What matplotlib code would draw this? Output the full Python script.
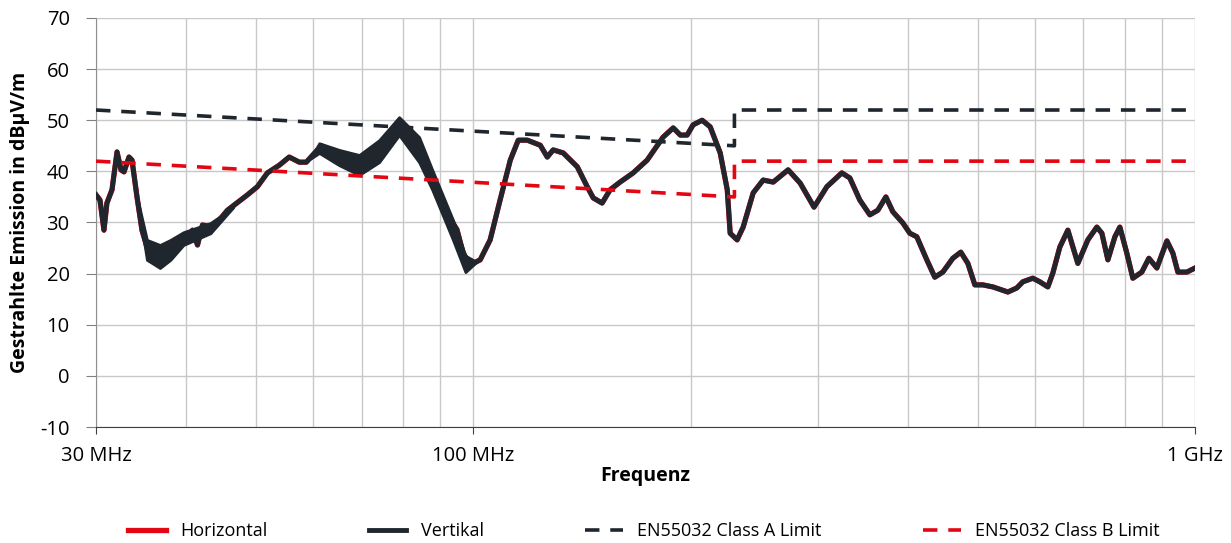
import matplotlib.pyplot as plt
from matplotlib.ticker import FixedLocator, NullFormatter

plt.rcParams['font.family'] = ['Open Sans', 'DejaVu Sans']
plt.rcParams['axes.unicode_minus'] = False

# Data (frequency in MHz, level in dBuV/m)
freq = [30, 30.38, 30.77, 31.06, 31.57, 32.08, 32.49, 32.80, 33.33, 33.65,
        34.19, 34.74, 35.41, 36.56, 38.04, 40.17, 40.81, 41.47, 42.13, 43.64,
        45.63, 48.63, 50.20, 51.83, 53.83, 55.57, 57.38, 58.68, 61.54, 63.74,
        65.80, 67.94, 69.47, 71.70, 74.74, 77.16, 79.15, 81.0, 84.1, 87.7,
        91.7, 94.9, 96.8, 99.0, 102.2, 105.5, 108.9, 112.5, 115.4, 118.8,
        123.8, 126.6, 129.0, 133.2, 139.3, 143.8, 146.6, 150.8, 154.7, 159.7,
        166.5, 174.1, 183.2, 189.2, 193.5, 197.8, 201.6, 207.5, 212.9, 219.8,
        224.8, 226.9, 232.0, 236.5, 244.2, 252.1, 260.3, 273.0, 283.7, 296.5,
        308.9, 324.0, 332.4, 343.1, 354.3, 363.5, 372.9, 381.3, 393.7, 402.5,
        411.6, 424.9, 435.9, 447.2, 461.7, 473.6, 484.4, 495.3, 508.1, 524.6,
        550.3, 566.3, 577.2, 595.9, 609.4, 625.2, 635.2, 649.6, 666.4, 688.0,
        710.3, 731.0, 742.8, 757.2, 774.3, 786.7, 804.4, 820.0, 843.8, 863.0,
        885.3, 914.1, 931.7, 946.7, 974.3, 1000]
vertikal = [35.4, 34.4, 28.5, 33.8, 36.4, 43.8, 40.3, 39.9, 42.8, 42.2,
            35.0, 28.5, 24.5, 23.3, 24.6, 27.0, 28.5, 25.6, 29.5, 29.1,
            32.4, 35.4, 37.0, 39.7, 41.2, 42.8, 41.8, 41.8, 45.0, 44.0,
            42.6, 42.8, 41.3, 42.0, 44.0, 47.0, 49.3, 47.0, 44.2, 38.4,
            32.0, 28.6, 24.0, 21.7, 22.7, 26.6, 34.4, 42.2, 46.1, 46.1,
            45.1, 42.8, 44.2, 43.6, 40.9, 37.0, 34.8, 33.8, 36.4, 37.9,
            39.7, 42.2, 46.7, 48.5, 47.1, 47.1, 49.1, 50.0, 48.7, 43.6,
            36.4, 27.9, 26.6, 29.1, 35.8, 38.3, 37.9, 40.3, 37.7, 33.0,
            37.0, 39.7, 38.7, 34.4, 31.5, 32.4, 35.0, 32.1, 29.9, 27.9,
            27.2, 22.7, 19.3, 20.3, 23.0, 24.2, 22.0, 17.8, 17.8, 17.4,
            16.4, 17.2, 18.4, 19.1, 18.4, 17.4, 20.1, 25.2, 28.5, 22.0,
            26.6, 29.1, 27.9, 22.7, 27.2, 29.1, 24.0, 19.1, 20.3, 23.0,
            21.1, 26.4, 24.0, 20.3, 20.3, 21.1]
horizontal = list(vertikal)

# spread of the noisy vertical trace (min / max envelope)
spread1_freq = [34.19, 35.29, 36.79, 38.04, 39.65, 43.22, 46.5]
spread1_lo = [35.0, 22.7, 21.1, 22.7, 25.6, 27.9, 33.0]
spread1_hi = [35.0, 26.6, 25.6, 26.6, 28.1, 29.9, 33.0]
spread2_freq = [59.5, 61.15, 65.17, 69.47, 74.03, 78.90, 84.10, 87.7, 93.69,
                97.5, 101.0]
spread2_lo = [42.5, 43.6, 41.2, 39.3, 41.8, 47.1, 41.8, 36.4, 26.6, 20.3, 22.3]
spread2_hi = [42.5, 45.5, 44.2, 43.2, 46.1, 50.6, 46.7, 40.3, 30.5, 23.5, 22.3]

limit_freq = [30, 230, 230, 1000]
class_a = [52, 45, 52, 52]
class_b = [42, 35, 42, 42]

dark = '#1f262d'
red = '#e30613'

fig = plt.figure(figsize=(12.31, 5.43), dpi=100)
ax = fig.add_axes([0.078, 0.2136, 0.8928, 0.7533])

ax.plot(freq, horizontal, color=red, linewidth=3.8, label='Horizontal',
        solid_joinstyle='round', zorder=3)
ax.plot(freq, vertikal, color=dark, linewidth=3.5, label='Vertikal',
        solid_joinstyle='round', zorder=4)
ax.fill_between(spread1_freq, spread1_lo, spread1_hi, color=dark, linewidth=2,
                edgecolor=dark, zorder=4)
ax.fill_between(spread2_freq, spread2_lo, spread2_hi, color=dark, linewidth=2,
                edgecolor=dark, zorder=4)
ax.plot(limit_freq, class_a, color=dark, linewidth=2.6, dashes=(4, 3),
        label='EN55032 Class A Limit', zorder=5)
ax.plot(limit_freq, class_b, color=red, linewidth=2.6, dashes=(4, 3),
        label='EN55032 Class B Limit', zorder=5)

ax.set_xscale('log')
ax.set_xlim(30, 1000)
ax.set_ylim(-10, 70)
ax.set_yticks(range(-10, 71, 10))
ax.xaxis.set_major_locator(FixedLocator([30, 100, 1000]))
ax.set_xticklabels(['30 MHz', '100 MHz', '1 GHz'])
ax.xaxis.set_minor_locator(FixedLocator([40, 50, 60, 70, 80, 90, 200, 300,
                                         400, 500, 600, 700, 800, 900]))
ax.xaxis.set_minor_formatter(NullFormatter())
ax.tick_params(axis='x', which='minor', length=0)
ax.tick_params(axis='x', which='major', length=5, pad=9, labelsize=14.5,
               color='#404040')
ax.tick_params(axis='y', length=7, pad=12, labelsize=14.5, color='#808080')

ax.grid(True, which='both', color='#c8c8c8', linewidth=1)
ax.set_axisbelow(True)
for s in ['top', 'right']:
    ax.spines[s].set_visible(False)
ax.spines['left'].set_color('#909090')
ax.spines['bottom'].set_color('#404040')

ax.set_xlabel('Frequenz', fontsize=14, fontweight='bold', labelpad=0)
ax.set_ylabel('Gestrahlte Emission in dBµV/m', fontsize=14, fontweight='bold',
              labelpad=7)

fig.legend(loc='lower center', bbox_to_anchor=(0.523, -0.025), ncol=4,
           frameon=False, fontsize=13, handlelength=2.1, columnspacing=5.6)

plt.savefig('out.png', dpi=100)
